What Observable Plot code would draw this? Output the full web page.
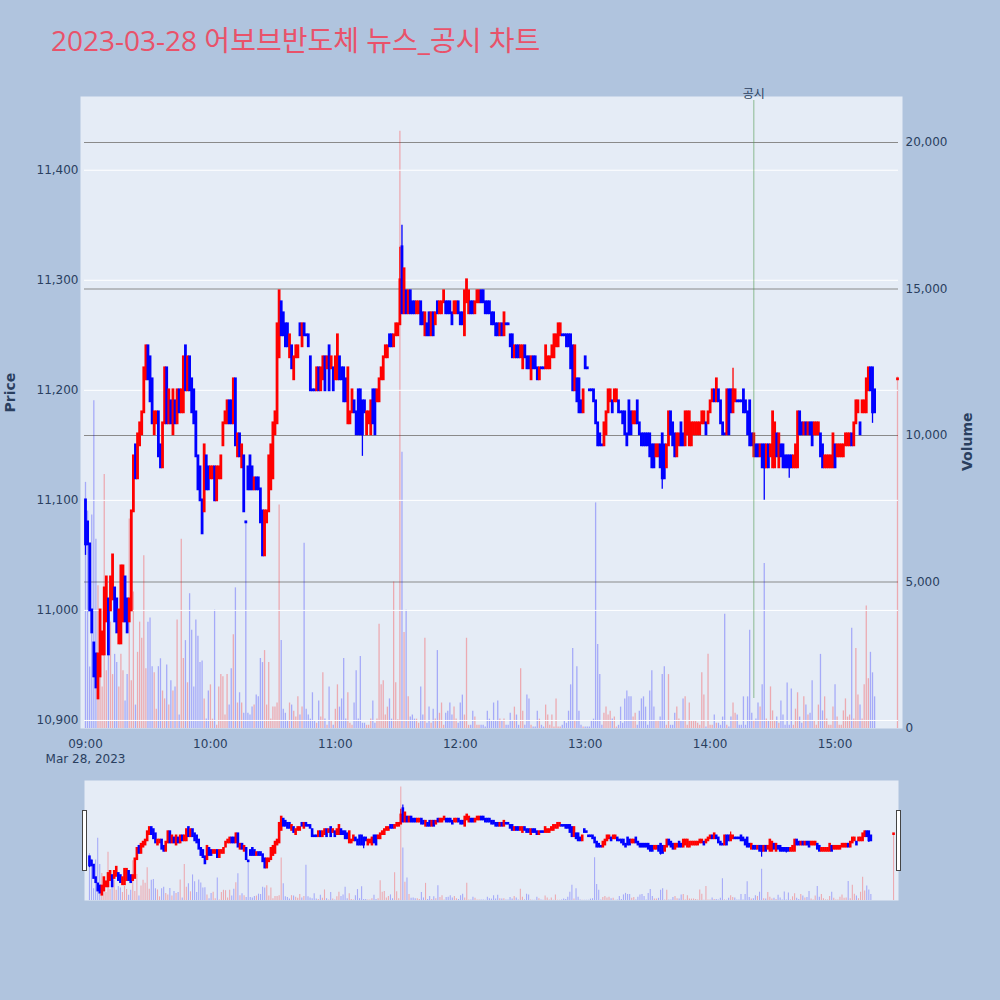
<!DOCTYPE html>
<html>
<head>
<meta charset="utf-8">
<script src="https://cdn.jsdelivr.net/npm/d3@7"></script>
<script src="https://cdn.jsdelivr.net/npm/@observablehq/plot@0.6"></script>
<style>
  html, body { margin: 0; padding: 0; background: #b0c4de; }
  #stage { position: relative; width: 1000px; height: 1000px; overflow: hidden; background: #b0c4de; }
  #title { position: absolute; left: 51px; top: 26px; font-size: 28px; line-height: 28px; color: #e9526a;
           white-space: nowrap; font-family: "Open Sans", "Noto Sans CJK KR", sans-serif; }
  #stage svg { position: absolute; left: 0; }
</style>
</head>
<body>
<div id="stage">
  <div id="title">2023-03-28 어보브반도체 뉴스_공시 차트</div>
</div>
<script>
// ---------------- DATA (1-minute bars, index = minutes after 09:00) ----------------
const sessionDate = "2023-03-28";
const disclosureLabel = "공시";
const disclosureTime = "14:21";

const openPrice = [
11100,11080,11060,11000,10970,10960,10920,10940,10960,10960,
10990,11010,11000,11010,11020,11010,10970,10970,10990,11030,
11010,10990,11000,11090,11150,11120,11150,11160,11180,11210,
11240,11230,11210,11160,11170,11180,11150,11130,11170,11220,
11170,11190,11160,11190,11170,11200,11180,11180,11240,11200,
11230,11210,11200,11180,11140,11130,11100,11090,11140,11130,
11120,11120,11130,11100,11120,11120,11150,11170,11170,11190,
11190,11170,11210,11140,11160,11130,11140,11080,11130,11140,
11130,11110,11120,11120,11110,11090,11050,11080,11090,11110,
11120,11160,11170,11230,11280,11270,11260,11260,11230,11240,
11210,11230,11230,11260,11240,11260,11250,11250,11230,11200,
11200,11200,11220,11200,11210,11230,11220,11240,11220,11220,
11210,11210,11230,11220,11220,11210,11170,11170,11180,11190,
11180,11200,11200,11190,11190,11160,11170,11160,11200,11200,
11190,11190,11210,11210,11230,11230,11250,11250,11240,11250,
11250,11260,11330,11270,11290,11270,11290,11280,11280,11270,
11270,11280,11270,11250,11260,11270,11250,11270,11260,11280,
11270,11270,11280,11280,11280,11280,11270,11270,11270,11280,
11270,11270,11250,11280,11270,11280,11280,11270,11280,11280,
11290,11290,11280,11280,11280,11270,11270,11260,11260,11250,
11260,11250,11260,11260,11250,11250,11230,11240,11240,11230,
11220,11240,11230,11230,11210,11230,11230,11220,11210,11220,
11220,11220,11220,11220,11230,11230,11240,11240,11250,11250,
11250,11250,11250,11250,11240,11200,11210,11210,11190,11180,
11230,11220,11200,11200,11200,11190,11170,11160,11150,11150,
11160,11180,11190,11190,11190,11190,11190,11180,11180,11180,
11160,11190,11180,11170,11170,11190,11170,11160,11160,11160,
11160,11160,11150,11150,11140,11140,11150,11160,11150,11130,
11150,11180,11170,11160,11140,11150,11170,11160,11150,11160,
11150,11150,11160,11160,11160,11160,11170,11170,11170,11170,
11180,11190,11200,11190,11200,11190,11170,11160,11160,11200,
11200,11180,11190,11190,11190,11190,11200,11190,11180,11190,
11160,11140,11150,11150,11140,11150,11150,11130,11150,11140,
11130,11130,11160,11130,11150,11150,11140,11140,11140,11140,
11130,11130,11130,11180,11170,11160,11170,11160,11170,11170,
11160,11160,11160,11160,11150,11130,11130,11130,11130,11130,
11150,11140,11140,11140,11140,11150,11150,11150,11160,11150,
11170,11180,11170,11180,11180,11180,11200,11220,11220,11200,
null,null,null,null,null,null,null,null,null,null,
11210];

const closePrice = [
11060,11060,11000,10980,10940,10930,10960,11000,10980,11020,
11030,10960,11030,11050,10990,10980,11000,11040,11040,10990,
10980,11010,11090,11140,11120,11160,11170,11180,11220,11240,
11210,11190,11170,11180,11180,11140,11130,11170,11220,11170,
11200,11170,11200,11170,11200,11180,11200,11230,11200,11230,
11200,11180,11170,11140,11110,11100,11070,11150,11110,11110,
11130,11130,11100,11130,11130,11140,11170,11180,11190,11170,
11170,11210,11150,11160,11140,11150,11090,11080,11110,11110,
11110,11120,11110,11110,11080,11050,11090,11090,11140,11150,
11170,11180,11260,11290,11250,11250,11240,11240,11250,11220,
11230,11240,11240,11250,11260,11250,11250,11240,11200,11200,
11200,11220,11200,11220,11230,11200,11230,11200,11230,11200,
11230,11250,11210,11210,11190,11190,11220,11180,11200,11180,
11160,11160,11160,11160,11180,11180,11180,11190,11170,11160,
11200,11210,11220,11230,11240,11240,11240,11240,11250,11260,
11260,11300,11270,11310,11270,11290,11270,11270,11270,11280,
11280,11260,11260,11270,11250,11250,11270,11250,11270,11270,
11280,11280,11290,11270,11270,11270,11260,11280,11280,11270,
11260,11260,11290,11300,11290,11270,11270,11280,11290,11290,
11280,11280,11270,11270,11270,11260,11260,11250,11250,11260,
11250,11270,11260,11260,11240,11230,11240,11230,11230,11240,
11240,11230,11220,11220,11230,11220,11220,11210,11220,11220,
11220,11240,11230,11230,11240,11250,11250,11260,11260,11250,
11250,11240,11240,11220,11200,11240,11190,11180,11180,11200,
11220,11220,11200,11200,11190,11170,11150,11150,11150,11170,
11180,11200,11200,11180,11200,11200,11180,11180,11170,11160,
11150,11160,11160,11180,11180,11170,11160,11150,11150,11150,
11150,11140,11130,11130,11150,11150,11130,11120,11120,11150,
11180,11160,11150,11140,11160,11160,11150,11150,11180,11180,
11180,11170,11170,11170,11170,11170,11180,11180,11160,11180,
11190,11200,11190,11210,11190,11170,11160,11160,11200,11160,
11180,11200,11200,11190,11190,11190,11180,11180,11160,11150,
11150,11160,11140,11140,11150,11130,11130,11150,11130,11150,
11180,11170,11140,11160,11140,11130,11130,11130,11130,11130,
11140,11150,11180,11160,11160,11170,11160,11170,11160,11150,
11170,11170,11170,11140,11130,11140,11140,11140,11140,11160,
11130,11150,11150,11150,11150,11160,11160,11160,11150,11170,
11190,11190,11160,11190,11190,11210,11220,11200,11180,11180,
null,null,null,null,null,null,null,null,null,null,
11210];

// shadows that reach beyond the body: [minute, low, high]
const wicks = [
  [0, 11050, 11100], [6, 10920, 10960], [56, 11070, 11100], [133, 11140, 11190],
  [151, 11260, 11330], [152, 11270, 11350], [277, 11110, 11160], [311, 11180, 11220],
  [326, 11100, 11150], [338, 11120, 11140], [378, 11170, 11220]
];

const volume = [
8400,7420,2100,7290,11190,6460,4870,4040,1420,8670,
1970,2530,3630,1840,2530,2250,1420,2530,1970,940,
1840,7150,1630,4660,800,2600,3630,3080,5900,2040,
3630,3770,2110,1900,660,2110,2380,1280,1010,2170,
800,1630,1280,1420,3700,460,6460,2390,3000,1560,
4600,3350,1420,3700,3150,2250,2300,1010,320,1280,
1490,320,4040,110,1420,1840,1770,460,1840,800,
2040,3200,4800,870,1220,870,520,7080,520,460,
730,800,1140,1080,2390,2250,2660,800,2250,320,
730,730,870,7630,3000,660,520,250,870,800,
590,390,1080,460,730,6320,660,460,320,1220,
250,180,940,390,1900,320,110,1420,250,110,
660,1490,730,1010,2390,320,1220,180,110,870,
1970,320,2460,180,180,110,110,320,940,180,
320,3560,1490,1630,460,730,1010,320,5000,1560,
300,20380,9430,3280,4040,1080,390,460,320,320,
180,1420,460,3080,180,730,180,660,320,2660,
520,870,110,520,590,870,460,730,320,180,
870,1140,460,3080,110,110,590,390,110,110,
110,110,50,590,320,250,870,250,940,320,
250,320,110,110,520,250,730,460,110,2040,
590,110,1140,1010,110,50,50,590,320,110,
50,800,460,110,460,50,1010,50,50,110,
250,180,590,1490,2730,250,2110,590,110,50,
50,50,50,250,320,7700,2870,1840,110,520,
730,460,590,320,390,50,110,730,180,1010,
1280,1080,1080,390,520,110,590,1010,1080,730,
110,1280,1970,730,250,250,390,1840,2110,110,
1840,110,110,520,730,320,250,1010,1080,110,
870,250,250,250,180,110,1900,1140,50,2530,
110,110,460,180,180,110,390,3900,110,50,
390,870,520,460,110,110,1080,110,1080,3350,
520,250,320,870,730,1490,5630,320,250,1420,
600,250,390,180,940,460,110,1550,110,1350,
110,660,1220,390,180,1080,800,460,520,1630,
250,110,800,2530,600,1080,320,110,110,730,
1490,390,110,110,600,1010,390,460,3420,320,
2730,1140,800,320,1490,4180,1700,2600,1900,1080,
null,null,null,null,null,null,null,null,null,null,
12000];

const priceTicks = [10900, 11000, 11100, 11200, 11300, 11400];
const volumeTicks = [0, 5000, 10000, 15000, 20000];

// ---------------- BUILD ----------------
const MIN = 60000;
const t0 = Date.parse(sessionDate + "T09:00:00Z");
const UP = "#ff0000", DOWN = "#0000ff";

const bars = [];
let prevClose = null;
openPrice.forEach((o, i) => {
  if (o == null) return;
  const c = closePrice[i];
  const up = c > o || (c === o && prevClose != null && c > prevClose);
  bars.push({t: new Date(t0 + i * MIN), o, c, v: volume[i], up});
  prevClose = c;
});
const barAt = new Map(bars.map(b => [Math.round((b.t - t0) / MIN), b]));
const shadows = wicks.map(([m, lo, hi]) => ({t: new Date(t0 + m * MIN), lo, hi, up: barAt.get(m).up}));
const disclosure = new Date(Date.parse(sessionDate + "T" + disclosureTime + ":00Z"));

const xDomain = [new Date(t0 - 2.4 * MIN), new Date(t0 + 392.4 * MIN)];
const priceDomain = [10892.7, 11467];
const volumeDomain = [0, 21570];
const hourTicks = d3.utcHour.range(new Date(t0), new Date(t0 + 361 * MIN));
const fmtHM = d3.utcFormat("%H:%M"), fmtDay = d3.utcFormat("%b %d, %Y");
const comma = d3.format(",");
const color = d => d.up ? UP : DOWN;

const baseStyle = {
  background: "transparent", overflow: "visible",
  fontFamily: '"DejaVu Sans", Verdana, "Noto Sans CJK KR", sans-serif', fontSize: "12px", color: "#2a3f5f"
};
const stage = document.getElementById("stage");
function place(svg, top) { svg.style.top = top + "px"; stage.appendChild(svg); }

const M = {width: 1000, height: 770, marginLeft: 80, marginRight: 98, marginTop: 96, marginBottom: 42};

// Volume layer (secondary axis, drawn underneath)
place(Plot.plot({
  ...M, style: baseStyle,
  x: {type: "utc", domain: xDomain, axis: null},
  y: {domain: volumeDomain, axis: null},
  marks: [
    Plot.frame({fill: "#e5ecf6", stroke: null}),
    Plot.ruleY(volumeTicks.filter(v => v > 0), {stroke: "#8a8a8a", strokeWidth: 1.2, insetLeft: 4, insetRight: 4}),
    Plot.ruleX(bars, {x: "t", y1: 0, y2: "v", stroke: color, strokeOpacity: 0.28, strokeWidth: 1.3}),
    Plot.axisY({ticks: volumeTicks, anchor: "right", tickSize: 0, tickPadding: 3, tickFormat: comma, label: null}),
    Plot.text(["Volume"], {text: d => d, frameAnchor: "right", rotate: -90, dx: 65, fontWeight: "bold", fontSize: 14, fill: "#2a3f5f"})
  ]
}), 0);

// Price layer (candlesticks)
place(Plot.plot({
  ...M, style: baseStyle,
  x: {type: "utc", domain: xDomain},
  y: {domain: priceDomain},
  marks: [
    Plot.ruleY(priceTicks, {stroke: "white", strokeWidth: 1, insetLeft: 4, insetRight: 4}),
    Plot.ruleX(shadows, {x: "t", y1: "lo", y2: "hi", stroke: color, strokeWidth: 1.3}),
    Plot.ruleX(bars, {x: "t", y1: "o", y2: "c", stroke: color, strokeWidth: 2.8, strokeLinecap: "square"}),
    Plot.ruleX([disclosure], {stroke: "#4f9a4f", strokeOpacity: 0.6, strokeWidth: 1, insetTop: 4, insetBottom: 30}),
    Plot.text([disclosure], {x: d => d, text: () => disclosureLabel, frameAnchor: "top", dy: -7, fontSize: 12, fill: "#2a3f5f"}),
    Plot.axisY({ticks: priceTicks, anchor: "left", tickSize: 0, tickPadding: 2, tickFormat: comma, label: null}),
    Plot.axisX({ticks: hourTicks, anchor: "bottom", tickSize: 0, tickPadding: 9, lineHeight: 1.25, label: null,
      tickFormat: d => d.getUTCHours() === 9 ? fmtHM(d) + "\n" + fmtDay(d) : fmtHM(d)}),
    Plot.text(["Price"], {text: d => d, frameAnchor: "left", rotate: -90, dx: -70, fontWeight: "bold", fontSize: 14, fill: "#2a3f5f"})
  ]
}), 0);

// Range slider
const S = {width: 1000, height: 140, marginLeft: 84, marginRight: 102, marginTop: 10, marginBottom: 10};
place(Plot.plot({
  ...S, style: baseStyle,
  x: {type: "utc", domain: xDomain, axis: null},
  y: {domain: volumeDomain, axis: null},
  marks: [
    Plot.frame({fill: "#e5ecf6", stroke: null}),
    Plot.ruleX(bars, {x: "t", y1: 0, y2: "v", stroke: color, strokeOpacity: 0.28, strokeWidth: 1.1})
  ]
}), 770);
place(Plot.plot({
  ...S, style: baseStyle,
  x: {type: "utc", domain: xDomain, axis: null},
  y: {domain: priceDomain, axis: null},
  marks: [
    Plot.ruleX(shadows, {x: "t", y1: "lo", y2: "hi", stroke: color, strokeWidth: 1.2}),
    Plot.ruleX(bars, {x: "t", y1: "o", y2: "c", stroke: color, strokeWidth: 2.6, strokeLinecap: "square"}),
    Plot.ruleX(xDomain, {stroke: "#444", strokeWidth: 5, insetTop: 30, insetBottom: 29}),
    Plot.ruleX(xDomain, {stroke: "white", strokeWidth: 3, insetTop: 31, insetBottom: 30})
  ]
}), 770);
</script>
</body>
</html>
